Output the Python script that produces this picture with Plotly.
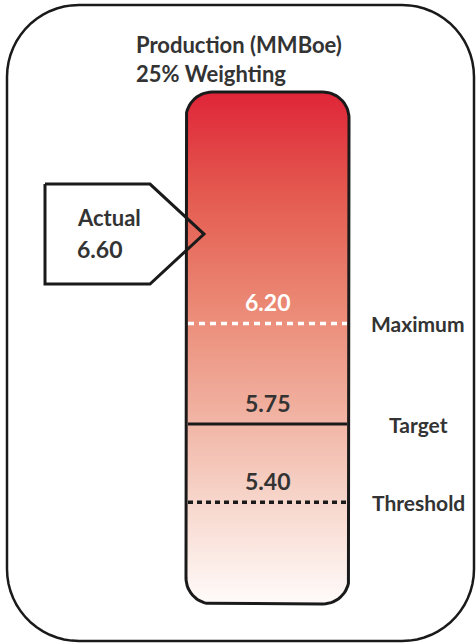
import numpy as np
import plotly.graph_objects as go

# ---- data ----
title_lines = ["Production (MMBoe)", "25% Weighting"]
level_names = ["Maximum", "Target", "Threshold"]
level_values = [6.20, 5.75, 5.40]
level_value_text = ["6.20", "5.75", "5.40"]
actual_label = "Actual"
actual_value = 6.60
bar_min = 4.945
bar_max = 7.235

# ---- layout helpers (pixel geometry of the 476x644 canvas) ----
W, H = 476, 644
PX_PER_UNIT = 223.5
REF_VAL, REF_PX = 5.75, 424.0
y_top_val = REF_VAL + REF_PX / PX_PER_UNIT
y_bot_val = REF_VAL - (H - REF_PX) / PX_PER_UNIT


def px2v(py):
    return REF_VAL + (REF_PX - py) / PX_PER_UNIT


def v2px(v):
    return REF_PX - (v - REF_VAL) * PX_PER_UNIT


def rounded_rect(x0, y0, x1, y1, r, n=16):
    """pixel-space rounded rectangle -> (x, y-in-values) lists"""
    pts = []
    corners = [
        (x1 - r, y0 + r, -90, 0),
        (x1 - r, y1 - r, 0, 90),
        (x0 + r, y1 - r, 90, 180),
        (x0 + r, y0 + r, 180, 270),
    ]
    for cx, cy, a0, a1 in corners:
        for a in np.linspace(np.radians(a0), np.radians(a1), n):
            pts.append((cx + r * np.cos(a), cy + r * np.sin(a)))
    pts.append(pts[0])
    xs = [p[0] for p in pts]
    ys = [px2v(p[1]) for p in pts]
    return xs, ys


FONT = "Lato"
TXT = "#333333"

fig = go.Figure()

# outer frame
ox, oy = rounded_rect(7, 5, 474, 641, 72)
fig.add_trace(go.Scatter(x=ox, y=oy, mode="lines", line=dict(color="#1a1a1a", width=2.5),
                         hoverinfo="skip", showlegend=False))

# bar with gradient
bx0, bx1 = 186, 349
bx, by = rounded_rect(bx0, v2px(bar_max), bx1, v2px(bar_min), 26)
fig.add_trace(go.Scatter(
    x=bx, y=by, mode="lines", fill="toself",
    fillgradient=dict(type="vertical", colorscale=[
        [0.0, "#FFFBFA"], [0.2, "#F7D6CB"], [0.4, "#F0AC9B"],
        [0.6, "#EA8571"], [0.8, "#E45A50"], [1.0, "#DF2538"]]),
    line=dict(color="#1a1a1a", width=3), hoverinfo="skip", showlegend=False))

# actual callout (outline only)
tip = v2px(actual_value)
cx = [45, 150, 204, 150, 45, 45]
cy = [tip - 50, tip - 50, tip, tip + 50, tip + 50, tip - 50]
fig.add_trace(go.Scatter(x=cx, y=[px2v(v) for v in cy], mode="lines",
                         line=dict(color="#1a1a1a", width=3),
                         hoverinfo="skip", showlegend=False))

# level lines
styles = [
    dict(color="white", width=3.5, dash="6px,5px"),
    dict(color="#1a1a1a", width=3),
    dict(color="#1a1a1a", width=3.5, dash="5px,4px"),
]
for v, st in zip(level_values, styles):
    fig.add_trace(go.Scatter(x=[bx0 + 2, bx1 - 2], y=[v, v], mode="lines", line=st,
                             hoverinfo="skip", showlegend=False))

# value labels inside bar
val_colors = ["white", TXT, TXT]
for v, t, c in zip(level_values, level_value_text, val_colors):
    fig.add_annotation(x=(bx0 + bx1) / 2, y=v, text=f"<b>{t}</b>", showarrow=False,
                       yshift=21, font=dict(family=FONT, size=23, color=c))

# level names
for v, n in zip(level_values, level_names):
    fig.add_annotation(x=418, y=v, text=f"<b>{n}</b>", showarrow=False,
                       font=dict(family=FONT, size=21, color=TXT))

# title
for i, t in enumerate(title_lines):
    fig.add_annotation(x=134, y=px2v(44 + 29 * i), text=f"<b>{t}</b>", showarrow=False,
                       xanchor="left", font=dict(family=FONT, size=22, color=TXT))

# actual text
fig.add_annotation(x=75, y=actual_value, text=f"<b>{actual_label}</b>", showarrow=False,
                   xanchor="left", yshift=17, font=dict(family=FONT, size=22, color=TXT))
fig.add_annotation(x=75, y=actual_value, text=f"<b>{actual_value:.2f}</b>", showarrow=False,
                   xanchor="left", yshift=-15, font=dict(family=FONT, size=23, color=TXT))

fig.update_layout(
    width=W, height=H, margin=dict(l=0, r=0, t=0, b=0),
    paper_bgcolor="white", plot_bgcolor="white",
    xaxis=dict(range=[0, W], visible=False, fixedrange=True),
    yaxis=dict(range=[y_bot_val, y_top_val], visible=False, fixedrange=True),
    showlegend=False,
)

fig.write_html("out.html")
